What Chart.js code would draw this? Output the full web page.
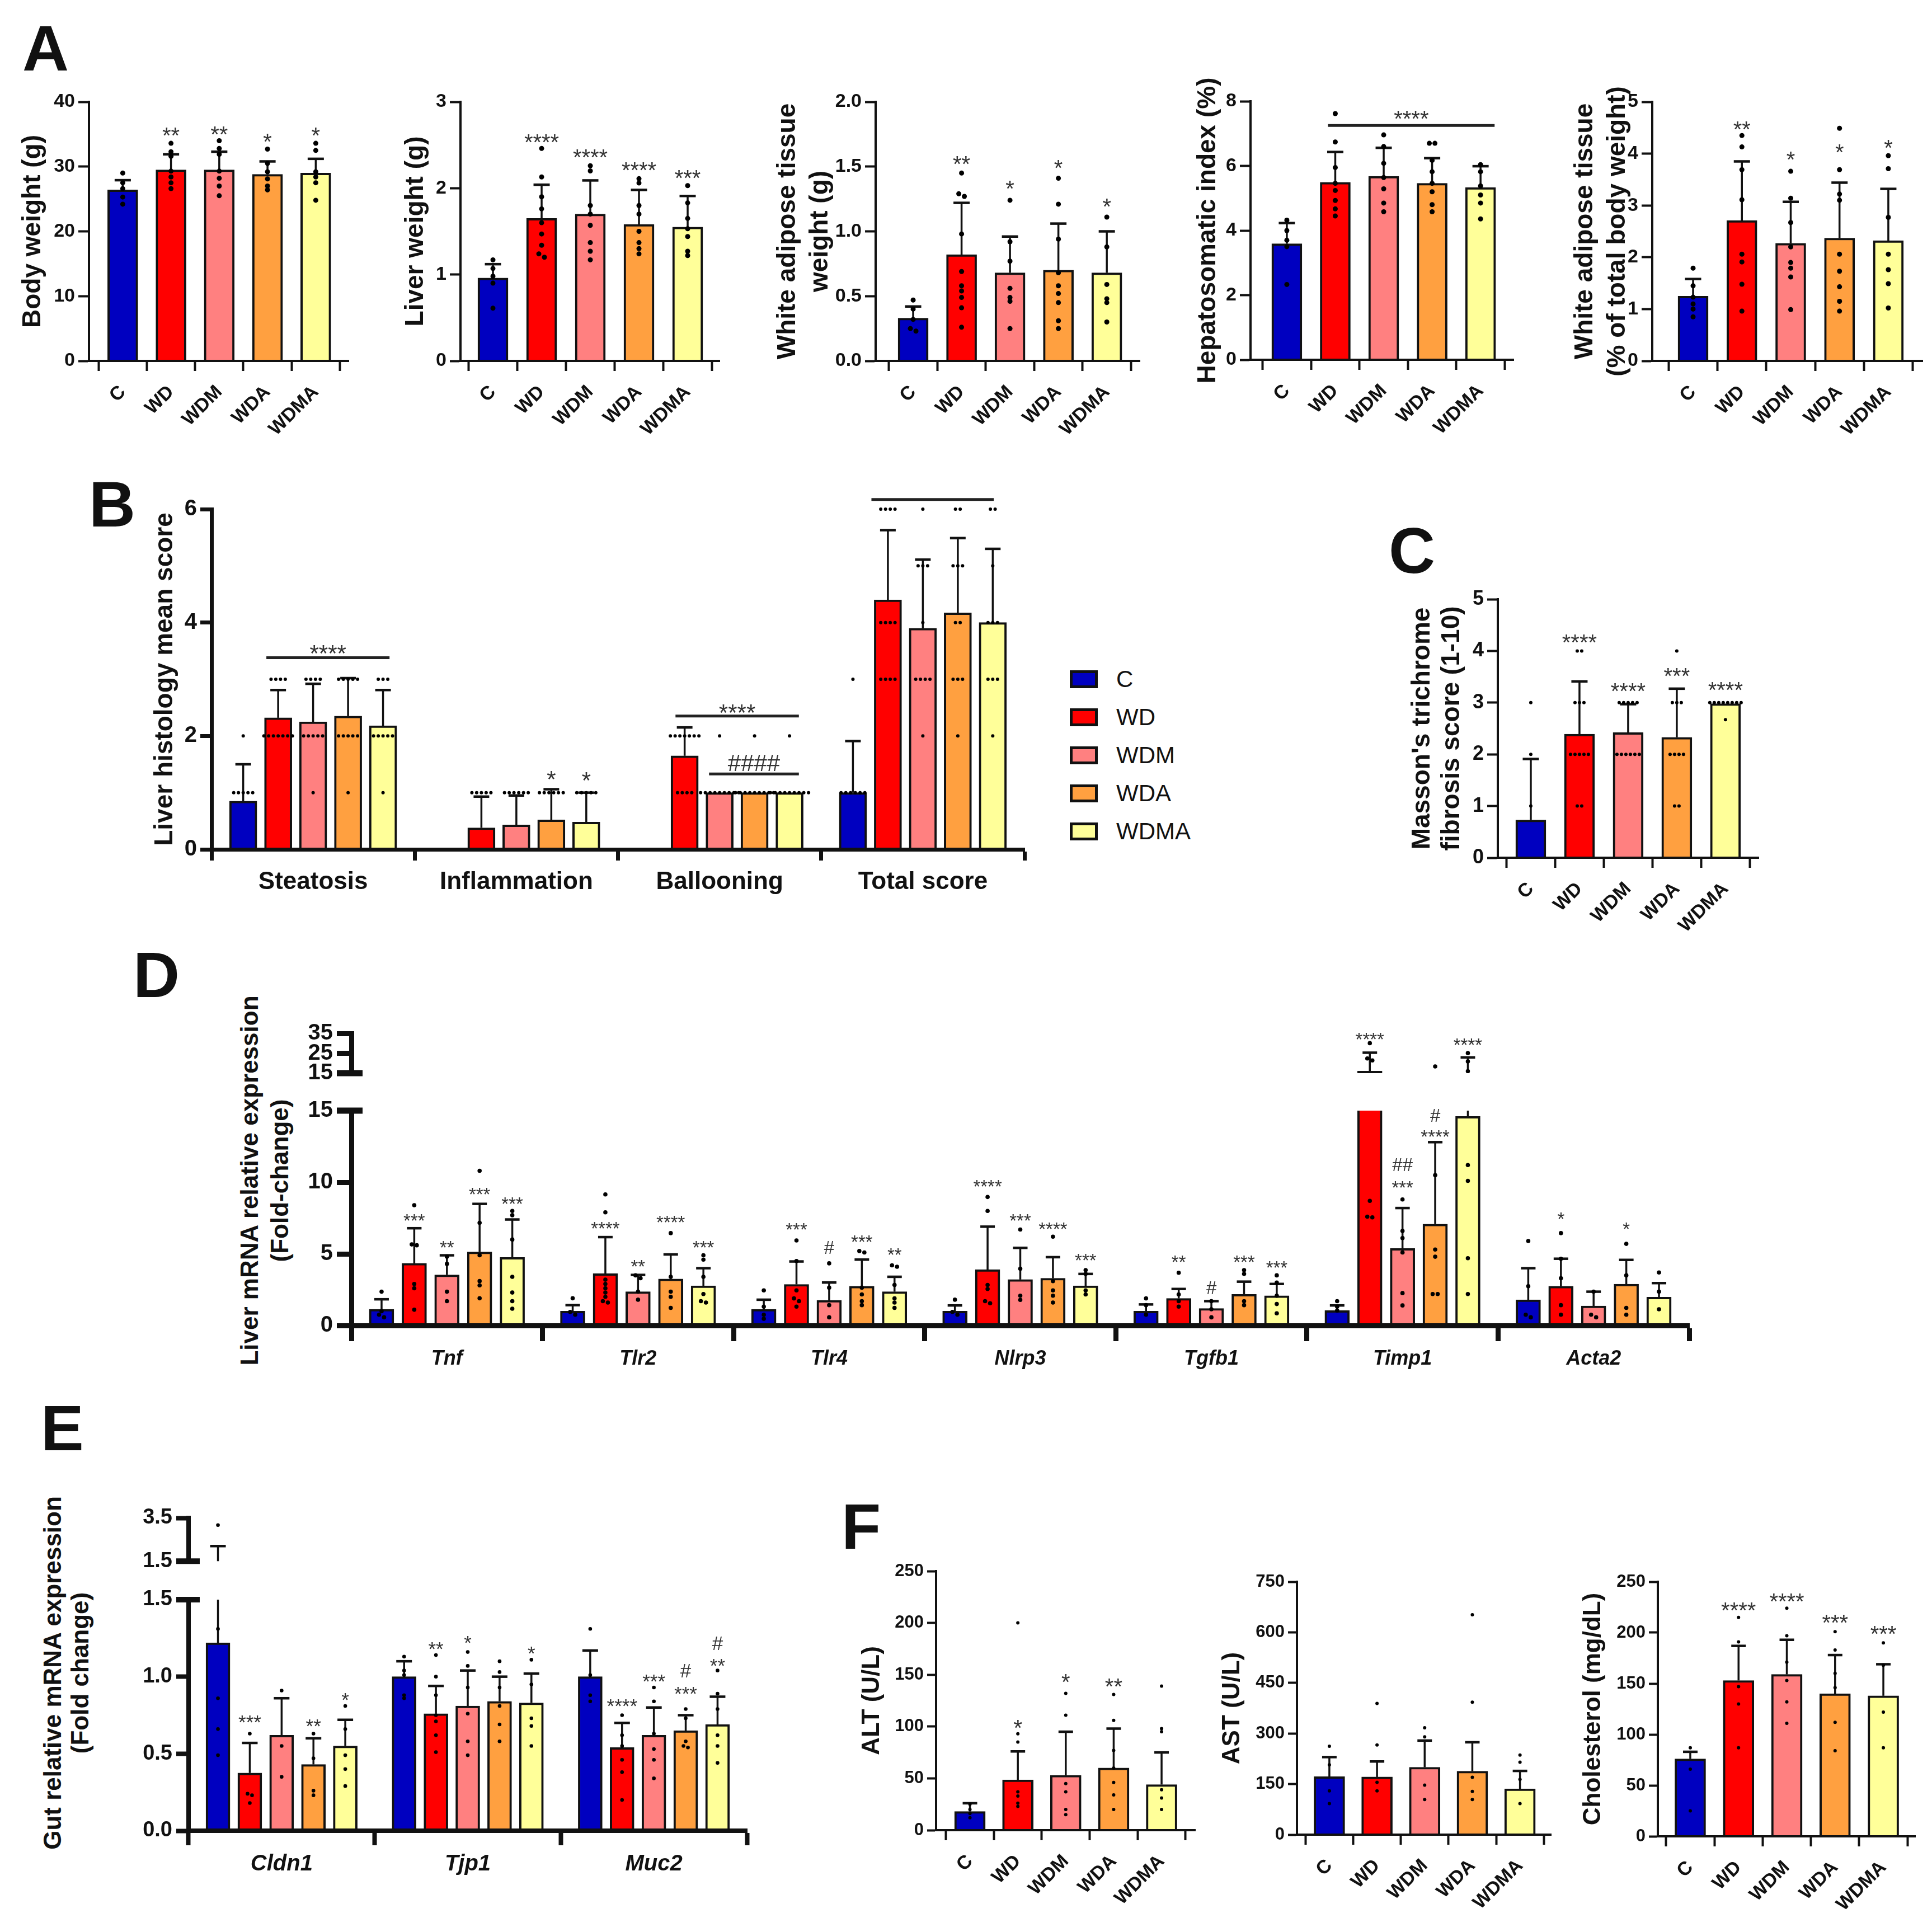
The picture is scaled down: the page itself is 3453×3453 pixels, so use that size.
<!DOCTYPE html>
<html lang="en">
<head>
<meta charset="UTF-8">
<title>Western diet model: weights, liver histology, gene expression, serum markers</title>
<script src="https://cdn.jsdelivr.net/npm/chart.js"></script>
<style>
  body { margin: 0; background: #fff; }
  #page { position: relative; width: 3453px; height: 3453px; overflow: hidden; background: #fff;
          font-family: "Liberation Sans", Arial, sans-serif; color: #111; }
  #page canvas { position: absolute; }
  .letter { position: absolute; font: bold 115px/1 "Liberation Sans", Arial, sans-serif; }
  .vtitle { position: absolute; transform: translate(-50%, -50%) rotate(-90deg); font-weight: bold;
            font-size: 44px; text-align: center; white-space: nowrap; }
  .legend { position: absolute; left: 1912px; top: 1180px; font-size: 42px; }
  .legend div { display: flex; align-items: center; height: 68px; }
  .legend .sw { width: 40px; height: 22px; border: 5px solid #111; margin-right: 33px; }
</style>
</head>
<body>
<div id="page">
  <div class="letter" style="left:40px;top:29px">A</div>
  <div class="letter" style="left:159px;top:844px">B</div>
  <div class="letter" style="left:2482px;top:927px">C</div>
  <div class="letter" style="left:238px;top:1685px">D</div>
  <div class="letter" style="left:73px;top:2495px">E</div>
  <div class="letter" style="left:1504px;top:2671px">F</div>
  <div class="vtitle" style="left:473px;top:2110px;line-height:54px">Liver mRNA relative expression<br>(Fold-change)</div>
  <div class="vtitle" style="left:118px;top:2990px;line-height:49px">Gut relative mRNA expression<br>(Fold change)</div>
  <div class="legend" id="legend"></div>
</div>
<script>
const FONT = '"Liberation Sans", Arial, sans-serif';

const groups = ['C', 'WD', 'WDM', 'WDA', 'WDMA'];
const groupColors = ['#0000C0', '#FF0000', '#FF8080', '#FFA040', '#FFFF99'];

// ---------- A: weights ----------
const bodyWeightMean = [26.4, 29.5, 29.5, 28.8, 29.0];
const bodyWeightSD = [1.5, 2.4, 2.8, 2.0, 2.2];
const bodyWeightDots = [
  [29.0, 27.5, 26.6, 25.3, 24.2],
  [33.6, 32.3, 31.6, 29.3, 28.4, 27.5, 26.6],
  [34.0, 32.8, 31.9, 29.3, 28.2, 27.0, 25.5],
  [32.7, 30.5, 29.2, 28.1, 27.0, 26.4],
  [33.6, 32.5, 29.2, 28.4, 27.5, 24.8]
];
const bodyWeightStars = [[1, '**', 35.6], [2, '**', 35.8], [3, '*', 34.7], [4, '*', 35.6]];

const liverWeightMean = [0.96, 1.65, 1.70, 1.58, 1.55];
const liverWeightSD = [0.16, 0.39, 0.39, 0.40, 0.36];
const liverWeightDots = [
  [1.17, 1.07, 0.98, 0.9, 0.61],
  [2.46, 2.13, 1.9, 1.76, 1.6, 1.47, 1.34, 1.24, 1.2],
  [2.26, 2.2, 1.8, 1.7, 1.57, 1.37, 1.27, 1.17],
  [2.11, 2.06, 1.8, 1.7, 1.5, 1.37, 1.3, 1.24],
  [2.03, 1.83, 1.65, 1.53, 1.44, 1.27, 1.22]
];
const liverWeightStars = [[1, '****', 2.59], [2, '****', 2.42], [3, '****', 2.27], [4, '***', 2.18]];

const watMean = [0.33, 0.82, 0.68, 0.70, 0.68];
const watSD = [0.09, 0.40, 0.28, 0.36, 0.32];
const watDots = [
  [0.47, 0.40, 0.32, 0.25, 0.23],
  [1.45, 1.29, 1.27, 0.98, 0.69, 0.58, 0.54, 0.49, 0.41, 0.26],
  [1.24, 0.92, 0.77, 0.56, 0.49, 0.46, 0.25],
  [1.41, 1.21, 0.94, 0.68, 0.58, 0.52, 0.45, 0.31, 0.25],
  [1.11, 0.88, 0.59, 0.48, 0.45, 0.3]
];
const watStars = [[1, '**', 1.56], [2, '*', 1.37], [3, '*', 1.53], [4, '*', 1.23]];

const hsiMean = [3.59, 5.49, 5.68, 5.46, 5.33];
const hsiSD = [0.64, 0.94, 0.88, 0.78, 0.66];
const hsiDots = [
  [4.32, 4.0, 3.7, 3.5, 2.33],
  [7.62, 6.74, 5.95, 5.46, 5.24, 4.93, 4.67, 4.45],
  [6.96, 6.6, 6.08, 5.64, 5.29, 4.85, 4.58],
  [6.7, 6.7, 6.17, 5.82, 5.46, 5.2, 4.8, 4.58],
  [6.04, 5.82, 5.38, 5.1, 4.85, 4.36]
];

const watPctMean = [1.25, 2.71, 2.27, 2.37, 2.32];
const watPctSD = [0.33, 1.14, 0.80, 1.07, 1.00];
const watPctDots = [
  [1.79, 1.45, 1.23, 1.1, 1.0, 0.85],
  [4.35, 4.13, 3.69, 3.11, 2.06, 1.91, 1.48, 0.96],
  [3.66, 3.14, 2.67, 2.2, 1.9, 1.79, 1.62, 0.99],
  [4.49, 3.69, 3.22, 3.1, 2.06, 1.73, 1.43, 1.15, 0.96],
  [3.96, 3.71, 2.77, 2.06, 1.76, 1.49, 1.02]
];
const watPctStars = [[1, '**', 4.57], [2, '*', 3.99], [3, '*', 4.13], [4, '*', 4.21]];

// ---------- B: liver histology (rows = groups, cols = categories) ----------
const histCategories = ['Steatosis', 'Inflammation', 'Ballooning', 'Total score'];
const histMean = [
  [0.85, 0, 0, 1.0],
  [2.32, 0.38, 1.65, 4.4],
  [2.25, 0.43, 1.0, 3.9],
  [2.35, 0.52, 1.0, 4.17],
  [2.18, 0.48, 1.0, 4.0]
];
const histSD = [
  [0.65, 0, 0, 0.91],
  [0.49, 0.55, 0.5, 1.23],
  [0.67, 0.52, 0, 1.21],
  [0.67, 0.54, 0, 1.32],
  [0.63, 0.52, 0, 1.3]
];
const histDots = [
  [[2, 1, 1, 1, 1, 1], [], [], [3, 1, 1, 1, 1, 1, 1]],
  [[3, 3, 3, 3, 2, 2, 2, 2, 2, 2, 2], [1, 1, 1, 1, 1], [2, 2, 2, 2, 2, 2, 2, 1, 1, 1, 1], [6, 6, 6, 6, 4, 4, 4, 4, 3, 3, 3, 3]],
  [[3, 3, 3, 3, 2, 2, 2, 2, 2, 1], [1, 1, 1, 1, 1, 1], [2, 1, 1, 1, 1, 1, 1, 1, 1, 1], [6, 5, 5, 5, 4, 3, 3, 3, 3, 2]],
  [[3, 3, 3, 3, 3, 2, 2, 2, 2, 2, 1], [1, 1, 1, 1, 1, 1], [2, 1, 1, 1, 1, 1, 1, 1, 1, 1], [6, 6, 5, 5, 5, 4, 4, 3, 3, 3, 2]],
  [[3, 3, 3, 2, 2, 2, 2, 2, 1], [1, 1, 1, 1, 1], [2, 1, 1, 1, 1, 1, 1, 1, 1, 1], [6, 6, 5, 4, 4, 4, 3, 3, 3, 2]]
];
const histStars = [[1, 3, '*', 1.34], [1, 4, '*', 1.32]];

// ---------- C: Masson's trichrome ----------
const fibrosisMean = [0.73, 2.39, 2.42, 2.33, 2.98];
const fibrosisSD = [1.18, 1.02, 0.55, 0.94, 0];
const fibrosisDots = [
  [3, 2, 1],
  [4, 4, 3, 3, 3, 2, 2, 2, 2, 2, 1, 1],
  [3, 3, 3, 3, 3, 2, 2, 2, 2, 2, 2],
  [4, 3, 3, 3, 2, 2, 2, 2, 1, 1],
  [3, 3, 3, 3, 3, 3, 3, 3, 2.67]
];
const fibrosisStars = [[1, '****', 4.27], [2, '****', 3.33], [3, '***', 3.62], [4, '****', 3.35]];

// ---------- D: liver mRNA (rows = groups, cols = genes) ----------
const liverGenes = ['Tnf', 'Tlr2', 'Tlr4', 'Nlrp3', 'Tgfb1', 'Timp1', 'Acta2'];
const liverMean = [
  [1.13, 1.0, 1.13, 1.0, 1.0, 1.04, 1.79],
  [4.34, 3.62, 2.87, 3.9, 1.89, 16.0, 2.74],
  [3.53, 2.36, 1.75, 3.21, 1.19, 5.38, 1.36],
  [5.13, 3.25, 2.74, 3.3, 2.17, 7.08, 2.89],
  [4.75, 2.77, 2.36, 2.77, 2.08, 14.6, 1.98]
];
const liverSD = [
  [0.70, 0.42, 0.67, 0.40, 0.47, 0.36, 2.21],
  [2.45, 2.55, 1.60, 3.0, 0.66, 9.3, 1.92],
  [1.37, 1.17, 1.25, 2.21, 0.51, 2.82, 1.0],
  [3.36, 1.71, 1.86, 1.47, 0.89, 5.72, 1.69],
  [2.65, 1.23, 1.04, 0.83, 0.82, 8.3, 0.98]
];
const liverDots = [
  [[2.36, 1.0, 0.75, 0.57], [1.9, 0.95, 0.75], [2.45, 1.32, 0.75, 0.47], [1.8, 0.95, 0.75], [1.89, 1.42, 0.75], [1.7, 1.32, 1.04], [5.9, 2.74, 0.75, 0.57]],
  [[8.4, 5.66, 5.6, 2.9, 2.6, 1.1], [9.15, 7.9, 3.2, 2.9, 2.6, 2.3, 2.0, 1.7, 1.6], [5.94, 4.5, 2.45, 1.89, 1.7, 1.32], [8.97, 8.0, 2.83, 2.55, 1.7, 1.55], [3.68, 2.17, 1.7, 1.32], [30.1, 22.4, 21.4, 8.7, 7.6, 7.55], [6.45, 4.66, 3.3, 1.42, 0.75]],
  [[4.8, 4.3, 2.36, 1.7], [3.5, 3.3, 2.36, 1.8], [4.34, 2.64, 1.42, 0.57], [6.7, 3.96, 2.08, 1.79], [1.7, 1.13, 0.57], [8.8, 6.6, 6.1, 5.1, 2.26, 1.4], [2.36, 0.75, 0.57]],
  [[10.8, 7.17, 4.9, 3.1, 2.8, 1.9], [6.45, 3.4, 2.36, 2.0, 1.23], [5.2, 5.1, 2.64, 2.17, 1.7, 1.42], [6.2, 3.1, 2.45, 2.08, 1.6], [3.87, 3.6, 1.7, 1.42], [18.4, 10.5, 5.3, 4.8, 2.2, 2.2], [5.7, 3.5, 1.23, 0.75]],
  [[8.0, 7.7, 6.0, 3.4, 2.3, 1.7, 1.17], [4.9, 4.6, 3.4, 2.2, 1.7, 1.6], [4.2, 4.1, 2.83, 1.89, 1.6, 1.23], [3.87, 3.6, 2.45, 2.17], [3.5, 3.0, 2.08, 1.5, 0.85], [25.1, 20.9, 16.0, 11.2, 10.1, 4.7, 2.2], [3.7, 2.36, 1.13]]
];
const liverStars = [
  [0, 1, '***', 7.64], [0, 2, '**', 5.75], [0, 3, '***', 9.47], [0, 4, '***', 8.81],
  [1, 1, '****', 7.08], [1, 2, '**', 4.43], [1, 3, '****', 7.51], [1, 4, '***', 5.75],
  [2, 1, '***', 6.98], [2, 2, '#', 5.47], [2, 3, '***', 6.13], [2, 4, '**', 5.23],
  [3, 1, '****', 10.0], [3, 2, '***', 7.64], [3, 3, '****', 7.02], [3, 4, '***', 4.85],
  [4, 1, '**', 4.72], [4, 2, '#', 2.64], [4, 3, '***', 4.72], [4, 4, '***', 4.34],
  [5, 1, '****', 34.2], [5, 2, '***', 9.94], [5, 2, '##', 11.26], [5, 3, '****', 13.5], [5, 3, '#', 14.7], [5, 4, '****', 31.5],
  [6, 1, '*', 7.74], [6, 3, '*', 7.02]
];

// ---------- E: gut mRNA ----------
const gutGenes = ['Cldn1', 'Tjp1', 'Muc2'];
const gutMean = [
  [1.22, 1.0, 1.0],
  [0.375, 0.76, 0.54],
  [0.62, 0.81, 0.62],
  [0.43, 0.84, 0.65],
  [0.55, 0.83, 0.69]
];
const gutSD = [
  [0.98, 0.10, 0.17],
  [0.195, 0.18, 0.16],
  [0.24, 0.23, 0.18],
  [0.17, 0.16, 0.10],
  [0.17, 0.19, 0.18]
];
const gutDots = [
  [[3.17, 1.31, 0.86, 0.66, 0.49], [1.13, 1.04, 1.01, 0.88, 0.86], [1.31, 1.01, 0.88, 0.84]],
  [[0.63, 0.24, 0.23, 0.18], [1.14, 1.0, 0.88, 0.75, 0.71, 0.62, 0.51], [0.75, 0.62, 0.55, 0.46, 0.38, 0.2]],
  [[0.91, 0.55, 0.35], [1.16, 1.07, 0.93, 0.76, 0.58, 0.49], [0.93, 0.84, 0.63, 0.53, 0.46, 0.34]],
  [[0.63, 0.47, 0.26, 0.23], [1.1, 1.03, 0.93, 0.81, 0.69, 0.58], [0.79, 0.73, 0.58, 0.54, 0.55]],
  [[0.81, 0.66, 0.49, 0.4, 0.29], [1.11, 0.95, 0.73, 0.68, 0.55], [1.04, 0.89, 0.79, 0.62, 0.55, 0.44]]
];
const gutStars = [
  [0, 1, '***', 0.735], [0, 3, '**', 0.71], [0, 4, '*', 0.88],
  [1, 1, '**', 1.21], [1, 2, '*', 1.25], [1, 4, '*', 1.18],
  [2, 1, '****', 0.84], [2, 2, '***', 1.0], [2, 3, '***', 0.92], [2, 3, '#', 1.04], [2, 4, '**', 1.10], [2, 4, '#', 1.22]
];

// ---------- F: serum ----------
const altMean = [18, 48.6, 53, 60, 44];
const altSD = [8, 27.4, 42, 38, 31];
const altDots = [[25, 20, 16, 12], [200, 93, 85, 37, 33, 26, 23], [132, 111, 45, 37, 20, 15], [131, 106, 77, 60, 46, 34, 20], [139, 98, 95, 39, 31, 20]];
const altStars = [[1, '*', 104], [2, '*', 148], [3, '**', 144]];

const astMean = [172, 171, 200, 188, 136];
const astSD = [58, 46, 79, 86, 53];
const astDots = [[262, 207, 130, 92], [389, 266, 155, 130], [317, 290, 147, 104], [652, 393, 170, 128, 104], [236, 215, 164, 92]];

const cholMean = [76, 153, 159, 140, 138];
const cholSD = [7, 34, 34, 38, 31];
const cholDots = [[87, 66, 25], [215, 191, 147, 130, 87], [224, 197, 171, 153, 132, 111], [201, 183, 160, 146, 112, 84], [190, 168, 122, 87]];
const cholStars = [[1, '****', 227], [2, '****', 236], [3, '***', 215], [4, '***', 204]];

// ---------- helpers ----------
const page = document.getElementById('page');

function simpleBars(mean, sd, dots) {
  return groups.map((g, i) => ({ x: i, y: mean[i], sd: sd[i], color: groupColors[i], dots: dots[i] }));
}
function simpleStars(list) {
  return list.map(s => ({ x: s[0], text: s[1], y: s[2] }));
}
function groupedBars(mean, sd, dots, step) {
  const out = [];
  mean.forEach((row, s) => row.forEach((v, c) => {
    out.push({ x: c + (s - 2) * step, y: v, sd: sd[s][c], color: groupColors[s], dots: dots[s][c] });
  }));
  return out;
}
function groupedStars(list, step) {
  return list.map(s => ({ x: s[0] + (s[1] - 2) * step, text: s[2], y: s[3] }));
}

// spread dots that sit at (almost) the same height side by side
function spreadDots(bars, pxX, pxY, r, gap) {
  const out = [];
  bars.forEach(b => {
    const vals = (b.dots || []).slice().sort((p, q) => q - p);
    let i = 0;
    while (i < vals.length) {
      let j = i + 1;
      while (j < vals.length && (vals[i] - vals[j]) * pxY < r * 1.5) j++;
      const n = j - i;
      for (let k = 0; k < n; k++) out.push({ x: b.x + (k - (n - 1) / 2) * gap / pxX, y: vals[i + k] });
      i = j;
    }
  });
  return out;
}

const defaults = {
  padT: 30, padR: 15, padB: 150, padL: 80,
  barPx: 54, barBorder: 4, dotR: 4.5, dotGap: 10,
  axisW: 4, yTickLen: 19, yTickSize: 34, yTickPad: 6,
  xTickLen: 18, xTickW: 4, xPad: 18, xFontSize: 34, xRotate: 45, xItalic: false,
  errW: 3.5, capW: 29, starSize: 40, lineW: 5,
  title: null, titleX: null, titleSize: 46, titleLH: 1.26,
  decimals: 0, yMin: 0, stars: [], lines: [], xTicks: [0, 1, 2, 3, 4], xLabels: groups,
  showX: true, clip: false, cap: null
};

function makeChart(opts) {
  const s = Object.assign({}, defaults, opts);
  const padL = s.titleX != null ? Math.round(s.axisX - s.titleX + s.titleSize * s.titleLH / 2) : s.padL;
  const W = Math.round(s.right - s.axisX + padL + s.padR);
  const H = Math.round(s.bottom - s.top + s.padT + s.padB);
  const cv = document.createElement('canvas');
  cv.width = W; cv.height = H;
  cv.style.left = Math.round(s.axisX - padL) + 'px';
  cv.style.top = Math.round(s.top - s.padT) + 'px';
  cv.style.width = W + 'px'; cv.style.height = H + 'px';
  page.appendChild(cv);

  const pxX = (s.right - s.axisX) / (s.xMax - s.xMin);
  const pxY = (s.bottom - s.top) / (s.yMax - s.yMin);
  const dotData = spreadDots(s.bars, pxX, pxY, s.dotR, s.dotGap);
  const stars = s.stars.filter(t => t.y >= s.yMin && t.y <= s.yMax + (s.yMax - s.yMin) * 0.03);

  const extras = {
    id: 'extras',
    afterDatasetDraw(chart, args) {
      if (args.meta.type !== 'bar') return;
      const { ctx, chartArea: a, scales: { x, y } } = chart;
      ctx.save();
      if (s.clip) { ctx.beginPath(); ctx.rect(a.left, a.top, a.right - a.left, a.bottom - a.top); ctx.clip(); }
      ctx.strokeStyle = '#111';
      s.bars.forEach(b => {
        if (!b.sd) return;
        const px = x.getPixelForValue(b.x);
        const p0 = y.getPixelForValue(b.y);
        const p1 = y.getPixelForValue(b.y + b.sd);
        ctx.lineWidth = s.errW;
        ctx.beginPath(); ctx.moveTo(px, p0); ctx.lineTo(px, p1); ctx.stroke();
        ctx.lineWidth = s.errW + 1;
        ctx.beginPath(); ctx.moveTo(px - s.capW / 2, p1); ctx.lineTo(px + s.capW / 2, p1); ctx.stroke();
      });
      ctx.restore();
    },
    afterDatasetsDraw(chart) {
      const { ctx, scales: { x, y } } = chart;
      ctx.save();
      ctx.fillStyle = '#333';
      ctx.textAlign = 'center';
      ctx.textBaseline = 'alphabetic';
      ctx.font = s.starSize + 'px ' + FONT;
      const drawMark = (text, cx, val) => {
        const k = text.indexOf('#') >= 0 ? 0.36 : 0.58;
        ctx.fillText(text, cx, y.getPixelForValue(val) + k * s.starSize);
      };
      stars.forEach(t => drawMark(t.text, x.getPixelForValue(t.x), t.y));
      ctx.strokeStyle = '#222';
      ctx.lineWidth = s.lineW;
      s.lines.forEach(l => {
        const py = y.getPixelForValue(l.y);
        ctx.beginPath(); ctx.moveTo(x.getPixelForValue(l.x1), py); ctx.lineTo(x.getPixelForValue(l.x2), py); ctx.stroke();
        if (l.text) drawMark(l.text, x.getPixelForValue((l.x1 + l.x2) / 2), l.textY);
      });
      ctx.restore();
    },
    afterDraw(chart) {
      if (!s.cap) return;
      const { ctx, chartArea: a } = chart;
      const py = s.cap === 'top' ? a.top : a.bottom;
      ctx.save();
      ctx.strokeStyle = '#111';
      ctx.lineWidth = s.axisW + 2;
      ctx.beginPath(); ctx.moveTo(a.left - s.yTickLen, py); ctx.lineTo(a.left + 20, py); ctx.stroke();
      ctx.restore();
    }
  };

  return new Chart(cv, {
    type: 'bar',
    data: {
      datasets: [
        {
          type: 'scatter', data: dotData, order: 1,
          pointRadius: s.dotR, pointHoverRadius: s.dotR, pointBackgroundColor: '#000', pointBorderWidth: 0,
          clip: s.clip ? 0 : false
        },
        {
          type: 'bar', order: 2,
          data: s.bars.map(b => ({ x: b.x, y: b.y })),
          backgroundColor: s.bars.map(b => b.color),
          borderColor: '#111', borderWidth: s.barBorder, barThickness: s.barPx,
          clip: 0
        }
      ]
    },
    options: {
      responsive: false, animation: false, devicePixelRatio: 1,
      layout: { padding: { top: s.padT, right: s.padR, left: 0, bottom: s.showX ? 0 : s.padB } },
      plugins: { legend: { display: false }, tooltip: { enabled: false } },
      events: [],
      scales: {
        x: {
          type: 'linear', min: s.xMin, max: s.xMax, offset: false, display: s.showX,
          grid: { display: true, drawOnChartArea: false, drawTicks: true, tickLength: s.xTickLen, tickWidth: s.xTickW, tickColor: '#111', z: 1 },
          border: { display: true, color: '#111', width: s.axisW, z: 1 },
          ticks: {
            autoSkip: false, maxRotation: s.xRotate, minRotation: s.xRotate, padding: s.xPad, color: '#111',
            font: { family: FONT, size: s.xFontSize, weight: 'bold', style: s.xItalic ? 'italic' : 'normal' },
            callback: (v, i) => s.xLabels[i]
          },
          afterBuildTicks: sc => { sc.ticks = s.xTicks.map(v => ({ value: v })); },
          afterFit: sc => { sc.height = s.padB; }
        },
        y: {
          type: 'linear', min: s.yMin, max: s.yMax,
          grid: { display: true, drawOnChartArea: false, drawTicks: true, tickLength: s.yTickLen, tickWidth: s.axisW, tickColor: '#111', z: 1 },
          border: { display: true, color: '#111', width: s.axisW, z: 1 },
          ticks: {
            autoSkip: false, padding: s.yTickPad, color: '#111',
            font: { family: FONT, size: s.yTickSize, weight: 'bold' },
            callback: v => s.decimals ? Number(v).toFixed(s.decimals) : String(v)
          },
          afterBuildTicks: sc => { sc.ticks = s.yTicks.map(v => ({ value: v })); },
          afterFit: sc => { sc.width = padL; },
          title: s.title ? {
            display: true, text: s.title, color: '#111', padding: 0,
            font: { family: FONT, size: s.titleSize, weight: 'bold', lineHeight: s.titleLH }
          } : { display: false }
        }
      }
    },
    plugins: [extras]
  });
}

// ---------- legend ----------
const legendBox = document.getElementById('legend');
groups.forEach((g, i) => {
  const row = document.createElement('div');
  const sw = document.createElement('span');
  sw.className = 'sw';
  sw.style.background = groupColors[i];
  row.appendChild(sw);
  row.appendChild(document.createTextNode(g));
  legendBox.appendChild(row);
});

// ---------- A ----------
makeChart({ axisX: 159, top: 182, bottom: 645, right: 623, titleX: 59, title: 'Body weight (g)',
  xMin: -0.7, xMax: 4.68, yMax: 40, yTicks: [0, 10, 20, 30, 40],
  bars: simpleBars(bodyWeightMean, bodyWeightSD, bodyWeightDots), stars: simpleStars(bodyWeightStars) });
makeChart({ axisX: 823, top: 182, bottom: 645, right: 1286, titleX: 743, title: 'Liver weight (g)',
  xMin: -0.667, xMax: 4.655, yMax: 3, yTicks: [0, 1, 2, 3],
  bars: simpleBars(liverWeightMean, liverWeightSD, liverWeightDots), stars: simpleStars(liverWeightStars) });
makeChart({ axisX: 1565, top: 182, bottom: 645, right: 2037, titleX: 1408, title: ['White adipose tissue', 'weight (g)'],
  xMin: -0.775, xMax: 4.68, yMax: 2, yTicks: [0, 0.5, 1, 1.5, 2], decimals: 1, padT: 60,
  bars: simpleBars(watMean, watSD, watDots), stars: simpleStars(watStars) });
makeChart({ axisX: 2235, top: 181, bottom: 643, right: 2705, titleX: 2159, title: 'Hepatosomatic index (%)',
  xMin: -0.75, xMax: 4.68, yMax: 8, yTicks: [0, 2, 4, 6, 8], padT: 100,
  bars: simpleBars(hsiMean, hsiSD, hsiDots),
  lines: [{ x1: 0.85, x2: 4.29, y: 7.25, text: '****', textY: 7.62 }] });
makeChart({ axisX: 2953, top: 182, bottom: 645, right: 3436, titleX: 2833, title: ['White adipose tissue', '(% of total body weight)'],
  xMin: -0.837, xMax: 4.70, yMax: 5, yTicks: [0, 1, 2, 3, 4, 5], padT: 70,
  bars: simpleBars(watPctMean, watPctSD, watPctDots), stars: simpleStars(watPctStars) });

// ---------- B ----------
const histStep = 0.172;
makeChart({ axisX: 378, top: 910, bottom: 1518, right: 1831, titleX: 295, title: 'Liver histology mean score',
  xMin: -0.5, xMax: 3.5, yMax: 6, yTicks: [0, 2, 4, 6], yTickSize: 40, yTickLen: 20, padT: 60, padB: 100,
  bars: groupedBars(histMean, histSD, histDots, histStep), barPx: 49, dotR: 3, dotGap: 8.5,
  xTicks: [0, 1, 2, 3], xLabels: histCategories, xRotate: 0, xFontSize: 44, xTickLen: 20, xTickW: 7, xPad: 12,
  axisW: 7, capW: 28, starSize: 42,
  stars: groupedStars(histStars, histStep),
  lines: [
    { x1: -0.23, x2: 0.376, y: 3.38, text: '****', textY: 3.56 },
    { x1: 1.783, x2: 2.39, y: 2.35, text: '****', textY: 2.51 },
    { x1: 1.948, x2: 2.39, y: 1.33, text: '####', textY: 1.53 },
    { x1: 2.747, x2: 3.349, y: 6.17 }
  ] });

// ---------- C ----------
makeChart({ axisX: 2677, top: 1071, bottom: 1533, right: 3143, titleX: 2542, title: ["Masson's trichrome", 'fibrosis score (1-10)'],
  titleLH: 1.17, xMin: -0.678, xMax: 4.68, yMax: 5, yTicks: [0, 1, 2, 3, 4, 5], padT: 40, yTickSize: 36,
  bars: simpleBars(fibrosisMean, fibrosisSD, fibrosisDots), dotR: 3, dotGap: 8,
  stars: simpleStars(fibrosisStars) });

// ---------- D (broken axis: upper + lower) ----------
const liverStep = 0.171;
const liverGeneTicks = [0, 1, 2, 3, 4, 5, 6];
const dCommon = { axisX: 628, right: 3019, padL: 95, xMin: -0.5, xMax: 6.5,
  bars: groupedBars(liverMean, liverSD, liverDots, liverStep), barPx: 44, dotR: 3.8, dotGap: 9,
  xTicks: liverGeneTicks, xLabels: liverGenes, xRotate: 0, xItalic: true, xFontSize: 36, xTickLen: 28, xTickW: 9, xPad: 10,
  axisW: 9, yTickLen: 26, yTickSize: 40, yTickPad: 7, capW: 26, starSize: 33, clip: true,
  stars: groupedStars(liverStars, liverStep) };
makeChart(Object.assign({}, dCommon, { top: 1847, bottom: 1945, yMin: 15, yMax: 35, yTicks: [15, 25, 35],
  showX: false, padT: 40, padB: 4, cap: 'bottom' }));
makeChart(Object.assign({}, dCommon, { top: 1984, bottom: 2369, yMin: 0, yMax: 15, yTicks: [0, 5, 10, 15],
  padT: 30, padB: 100, cap: 'top' }));

// ---------- E (broken axis) ----------
const gutStep = 0.171;
const eCommon = { axisX: 337, right: 1335, padL: 105, xMin: -0.5, xMax: 2.5,
  bars: groupedBars(gutMean, gutSD, gutDots, gutStep), barPx: 43, dotR: 3.3, dotGap: 8,
  xTicks: [0, 1, 2], xLabels: gutGenes, xRotate: 0, xItalic: true, xFontSize: 40, xTickLen: 26, xTickW: 8, xPad: 10,
  axisW: 8, yTickLen: 22, yTickSize: 38, yTickPad: 7, capW: 28, starSize: 35, clip: true, decimals: 1,
  stars: groupedStars(gutStars, gutStep) };
makeChart(Object.assign({}, eCommon, { top: 2713, bottom: 2816, yMin: 1.5, yMax: 3.5, yTicks: [1.5, 3.5],
  showX: false, padT: 30, padB: 4, cap: 'bottom' }));
makeChart(Object.assign({}, eCommon, { top: 2859, bottom: 3272, yMin: 0, yMax: 1.5, yTicks: [0, 0.5, 1, 1.5],
  padT: 30, padB: 100, cap: 'top' }));

// ---------- F ----------
const fCommon = { barPx: 55, dotR: 3, dotGap: 7, yTickSize: 31, yTickLen: 16, titleSize: 44, capW: 26, padB: 150 };
makeChart(Object.assign({}, fCommon, { axisX: 1673, top: 2808, bottom: 3271, right: 2136, titleX: 1559, title: 'ALT (U/L)',
  xMin: -0.707, xMax: 4.70, yMax: 250, yTicks: [0, 50, 100, 150, 200, 250],
  bars: simpleBars(altMean, altSD, altDots), stars: simpleStars(altStars) }));
makeChart(Object.assign({}, fCommon, { axisX: 2318, top: 2827, bottom: 3279, right: 2772, titleX: 2203, title: 'AST (U/L)',
  xMin: -0.68, xMax: 4.65, yMax: 750, yTicks: [0, 150, 300, 450, 600, 750],
  bars: simpleBars(astMean, astSD, astDots) }));
makeChart(Object.assign({}, fCommon, { axisX: 2963, top: 2827, bottom: 3282, right: 3423, titleX: 2848, title: 'Cholesterol (mg/dL)',
  xMin: -0.672, xMax: 4.66, yMax: 250, yTicks: [0, 50, 100, 150, 200, 250],
  bars: simpleBars(cholMean, cholSD, cholDots), stars: simpleStars(cholStars) }));
</script>
</body>
</html>
